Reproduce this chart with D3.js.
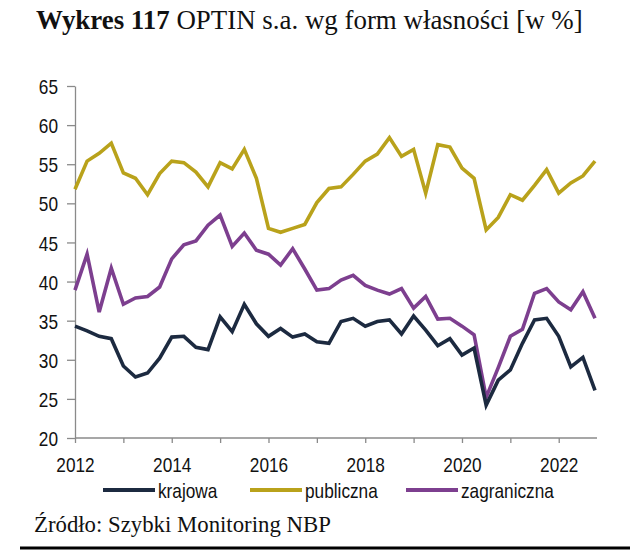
<!DOCTYPE html>
<html><head><meta charset="utf-8">
<script src="https://cdn.jsdelivr.net/npm/d3@7"></script>
<style>
html,body{margin:0;padding:0;background:#fff;}
svg{display:block;}
</style></head>
<body>
<svg id="chart" width="630" height="552"></svg>
<script>
// ---- DATA ----
const title = "OPTIN s.a. wg form własności [w %]";
const titleBold = "Wykres 117";
const source = "Źródło: Szybki Monitoring NBP";
const startYear = 2012;
const seriesNames = ["krajowa", "publiczna", "zagraniczna"];
const seriesColors = ["#1c2a40", "#b9a21b", "#7d3f8f"];
// quarterly values 2012Q1 .. 2022Q4
const krajowa = [34.3,33.7,33.0,32.7, 29.2,27.8,28.3,30.2, 32.9,33.0,31.6,31.3,
  35.5,33.6,37.1,34.6, 33.0,34.0,32.9,33.3, 32.3,32.1,34.9,35.3,
  34.3,34.9,35.1,33.3, 35.6,33.8,31.8,32.7, 30.6,31.5,24.2,27.4,
  28.7,32.1,35.1,35.3, 33.0,29.1,30.3,26.1];
const publiczna = [51.8,55.4,56.4,57.7, 53.9,53.2,51.1,53.8, 55.4,55.2,54.0,52.1,
  55.2,54.4,56.9,53.2, 46.8,46.3,46.8,47.3, 50.1,51.9,52.1,53.7,
  55.4,56.3,58.4,56.0, 56.9,51.3,57.5,57.2, 54.5,53.2,46.6,48.2,
  51.1,50.4,52.3,54.3, 51.3,52.6,53.5,55.4];
const zagraniczna = [38.9,43.5,36.1,41.7, 37.1,37.9,38.1,39.3, 42.9,44.7,45.2,47.2,
  48.5,44.5,46.2,44.0, 43.5,42.1,44.2,41.6, 38.9,39.1,40.2,40.8,
  39.5,38.9,38.4,39.1, 36.6,38.1,35.2,35.3, 34.3,33.2,25.2,29.0,
  33.0,33.9,38.5,39.1, 37.4,36.4,38.7,35.3];
const yTicks = [20,25,30,35,40,45,50,55,60,65];
const xTickYears = [2012,2013,2014,2015,2016,2017,2018,2019,2020,2021,2022];
const xLabelYears = [2012,2014,2016,2018,2020,2022];

// ---- LAYOUT ----
const svg = d3.select("#chart");
const plot = {left:75, right:595, top:86, bottom:438};
const axisColor = "#8a8a8a";
const labelSize = 21;

// detect narrow font
function hasFont(name){
  const t1 = svg.append("text").attr("font-family", `"${name}", monospace`).attr("font-size",40).text("2012 krajowa");
  const t2 = svg.append("text").attr("font-family", `monospace`).attr("font-size",40).text("2012 krajowa");
  const a = t1.node().getComputedTextLength(), b = t2.node().getComputedTextLength();
  t1.remove(); t2.remove();
  return Math.abs(a-b) > 0.5;
}
const narrow = hasFont("Liberation Sans Narrow");
const sansFamily = narrow ? '"Liberation Sans Narrow", "Liberation Sans", Arial, sans-serif' : '"Liberation Sans", Arial, sans-serif';
function squeeze(sel){
  if (narrow) return;
  sel.each(function(){
    const w = this.getComputedTextLength();
    d3.select(this).attr("textLength", w*0.82).attr("lengthAdjust","spacingAndGlyphs");
  });
}

const nQ = krajowa.length;
const xVal = i => startYear + i/4;
const x = d3.scaleLinear().domain([startYear, startYear + (nQ-1)/4]).range([plot.left, plot.right]);
const y = d3.scaleLinear().domain([20,65]).range([plot.bottom, plot.top]);

// Title
const serif = '"Liberation Serif", "Times New Roman", serif';
const tt = svg.append("text").attr("x",36).attr("y",29).attr("font-family",serif).attr("font-size",24).attr("fill","#111");
tt.append("tspan").attr("font-weight","bold").text(titleBold);
tt.append("tspan").text(" " + title);
{
  const w = tt.node().getComputedTextLength();
  tt.attr("font-size", 24*547/w);
}

// Y axis
const yAxis = svg.append("g").attr("transform",`translate(${plot.left},0)`)
  .call(d3.axisLeft(y).tickValues(yTicks).tickSize(8).tickSizeOuter(0).tickPadding(9).tickFormat(d3.format("d")));
yAxis.select(".domain").attr("stroke",axisColor).attr("stroke-width",1.3);
yAxis.selectAll(".tick line").attr("stroke",axisColor).attr("stroke-width",1.3);
yAxis.selectAll(".tick text").attr("font-family",sansFamily).attr("font-size",labelSize).attr("fill","#111").attr("dy","0.36em");
squeeze(yAxis.selectAll(".tick text"));

// X axis
const xAxis = svg.append("g").attr("transform",`translate(0,${plot.bottom})`)
  .call(d3.axisBottom(x).tickValues(xTickYears).tickSize(5).tickSizeOuter(0)
    .tickFormat(d => xLabelYears.includes(d) ? String(d) : ""));
xAxis.select(".domain").attr("stroke",axisColor).attr("stroke-width",1.3)
  .attr("d", `M${plot.left},0H${plot.right+2}`);
xAxis.selectAll(".tick line").attr("stroke",axisColor).attr("stroke-width",1.3);
xAxis.selectAll(".tick text").attr("font-family",sansFamily).attr("font-size",labelSize).attr("fill","#111")
  .attr("y",null).attr("dy",null).attr("transform","translate(0,34)");
squeeze(xAxis.selectAll(".tick text"));

// Lines
const seriesData = [krajowa, publiczna, zagraniczna];
const line = d3.line().x((d,i)=>x(xVal(i))).y(d=>y(d));
[1,2,0].forEach(k=>{
  svg.append("path").datum(seriesData[k]).attr("d",line)
    .attr("fill","none").attr("stroke",seriesColors[k]).attr("stroke-width",3.6)
    .attr("stroke-linejoin","miter").attr("stroke-linecap","butt");
});

// Legend
const legendX = [103, 250, 406];
const legendY = 490;
seriesNames.forEach((name,k)=>{
  const g = svg.append("g").attr("transform",`translate(${legendX[k]},${legendY})`);
  g.append("line").attr("x1",0).attr("x2",52).attr("y1",0).attr("y2",0)
    .attr("stroke",seriesColors[k]).attr("stroke-width",4);
  const t = g.append("text").attr("x",55).attr("y",0).attr("dy","0.36em").attr("font-family",sansFamily)
    .attr("font-size",labelSize).attr("fill","#111").text(name);
  squeeze(t);
});

// Source
const st = svg.append("text").attr("x",34).attr("y",532).attr("font-family",serif).attr("font-size",19).attr("fill","#111").text(source);
{
  const w = st.node().getComputedTextLength();
  st.attr("font-size", 19*297/w);
}
svg.append("line").attr("x1",20).attr("x2",630).attr("y1",548).attr("y2",548).attr("stroke","#000").attr("stroke-width",3);
</script>
</body></html>
